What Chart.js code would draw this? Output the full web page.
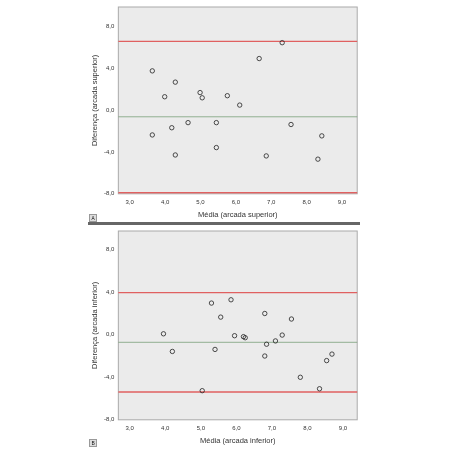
<!DOCTYPE html><html><head><meta charset="utf-8">
<script src="https://cdn.jsdelivr.net/npm/chart.js@4"></script>
<style>body{margin:0;background:#fff;width:450px;height:450px;position:relative;font-family:"Open Sans",sans-serif;overflow:hidden}
.c{position:absolute;left:86px;width:276px}
.lab{position:absolute;left:89px;width:6px;height:6px;border:1px solid #999;background:#ddd;font-size:5px;line-height:6px;text-align:center}
</style></head><body>
<div class="c" style="top:0;height:222px"><canvas id="a"></canvas></div>
<div class="c" style="top:226px;height:222px"><canvas id="b"></canvas></div>
<div style="position:absolute;left:88px;top:222px;width:272px;height:3px;background:#666"></div>
<div class="lab" style="top:214px">A</div>
<div class="lab" style="top:439px">B</div>
<script>
const xTicks=[3,4,5,6,7,8,9];
const yTicks=[-8,-4,0,4,8];
const ax=[3.64,4.29,3.99,4.99,5.05,5.76,6.11,6.66,7.31,3.64,4.19,4.65,5.45,5.45,4.29,6.86,7.56,8.43,8.32];
const ay=[3.78,2.7,1.3,1.7,1.2,1.4,0.5,4.96,6.48,-2.36,-1.67,-1.18,-1.18,-3.57,-4.28,-4.37,-1.36,-2.45,-4.68];
const aLines={mean:-0.62,upper:6.6,lower:-7.9};
const bx=[3.95,4.2,5.3,5.56,5.85,5.4,5.04,5.95,6.2,6.25,6.8,6.85,6.8,7.1,7.29,7.55,7.8,8.34,8.54,8.69];
const by=[0.09,-1.57,2.98,1.66,3.29,-1.38,-5.26,-0.09,-0.18,-0.28,2.0,-0.89,-2.0,-0.58,-0.03,1.48,-4.0,-5.08,-2.43,-1.82];
const bLines={mean:-0.71,upper:3.97,lower:-5.38};
const fmt=v=>v.toFixed(1).replace('.',',');
const border={id:'bd',beforeDraw(c){const a=c.chartArea,x=c.ctx;x.save();x.fillStyle='#ebebeb';x.fillRect(a.left,a.top,a.right-a.left,a.bottom-a.top);x.strokeStyle='#aaa';x.lineWidth=1;x.strokeRect(a.left,a.top,a.right-a.left,a.bottom-a.top);x.restore();}};
function make(id,xs,ys,L,xt,yt,ymax,xmax,top){
 const hl=(v,c,w)=>({type:'line',data:[{x:2.6,y:v},{x:9.6,y:v}],borderColor:c,borderWidth:w,pointRadius:0});
 new Chart(document.getElementById(id),{data:{datasets:[
  {type:'scatter',data:xs.map((x,i)=>({x,y:ys[i]})),pointRadius:2.2,pointBorderColor:'#222',pointBackgroundColor:'rgba(0,0,0,0)',pointBorderWidth:0.8},
  hl(L.mean,'#7aa07a',0.8),hl(L.upper,'#e06060',1.2),hl(L.lower,'#e06060',1.5)]},
 options:{animation:false,responsive:true,maintainAspectRatio:false,clip:true,layout:{padding:{right:4,top:top,bottom:3}},
  plugins:{legend:{display:false},tooltip:{enabled:false}},
  scales:{x:{type:'linear',min:2.68,max:xmax,afterBuildTicks:s=>{s.ticks=xTicks.map(v=>({value:v}))},
    grid:{display:false,drawOnChartArea:false,tickLength:3,color:'#666'},border:{display:false},
    ticks:{callback:fmt,font:{size:6},color:'#333',padding:2},
    title:{display:true,text:xt,font:{size:7.5},color:'#333',padding:{top:2,bottom:0}}},
   y:{min:-8,max:ymax,afterBuildTicks:s=>{s.ticks=yTicks.map(v=>({value:v}))},
    grid:{display:false,drawOnChartArea:false,tickLength:3,color:'#666'},border:{display:false},
    ticks:{callback:fmt,font:{size:6},color:'#333',padding:1},
    title:{display:true,text:yt,font:{size:7.5},color:'#333'}}}},plugins:[border]});
}
make('a',ax,ay,aLines,'Média (arcada superior)','Diferença (arcada superior)',9.9,9.43,7);
make('b',bx,by,bLines,'Média (arcada inferior)','Diferença (arcada inferior)',9.76,9.4,5);
</script></body></html>
